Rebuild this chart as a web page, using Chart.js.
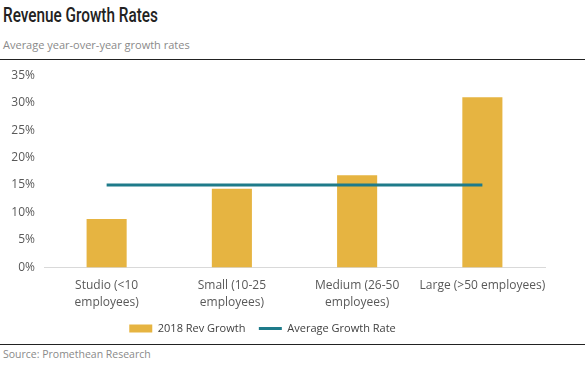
<!DOCTYPE html>
<html>
<head>
<meta charset="utf-8">
<script src="https://cdn.jsdelivr.net/npm/chart.js@4/dist/chart.umd.min.js"></script>
<style>
  body { margin: 0; width: 588px; height: 367px; background: #fff; font-family: "Open Sans", sans-serif; overflow: hidden; }
  #title { position: absolute; left: 3px; top: 3px; font-family: Roboto, sans-serif; font-weight: 500; font-size: 21px; color: #222; transform: scaleX(0.73); transform-origin: left top; white-space: nowrap; }
  #sub { position: absolute; left: 3px; top: 37px; font-size: 11px; color: #8a8a8a; }
  #topline { position: absolute; left: 0; top: 59px; width: 585px; height: 1px; background: #222; }
  #box { position: absolute; left: 0; top: 59px; width: 588px; height: 285px; }
  #botline { position: absolute; left: 0; top: 344px; width: 585px; height: 1px; background: #222; }
  #src { position: absolute; left: 3px; top: 347px; font-size: 10.5px; color: #8a8a8a; }
</style>
</head>
<body>
<div id="title">Revenue Growth Rates</div>
<div id="sub">Average year-over-year growth rates</div>
<div id="topline"></div>
<div id="box"><canvas id="chart"></canvas></div>
<div id="botline"></div>
<div id="src">Source: Promethean Research</div>
<script>
var categories = [
    ['Studio (<10', 'employees)'],
    ['Small (10-25', 'employees)'],
    ['Medium (26-50', 'employees)'],
    'Large (>50 employees)'
];
var revGrowth = [8.8, 14.3, 16.8, 31.0];
var avgGrowth = [15.0, 15.0, 15.0, 15.0];
var yTicks = [0, 5, 10, 15, 20, 25, 30, 35];

// trailing spaces widen the legend items to get the gaps of the original
var legendPad = { 'line': '       ', 'bar': '    ' };

var canvas = document.getElementById('chart').getContext('2d');
window.bar = new Chart(canvas, {
    data: {
        labels: categories,
        datasets: [{
                type: 'line',
                label: 'Average Growth Rate',
                data: avgGrowth,
                borderColor: '#1E7B8A',
                backgroundColor: '#1E7B8A',
                borderWidth: 3,
                pointRadius: 0,
                order: 0
            },
            {
                type: 'bar',
                label: '2018 Rev Growth',
                data: revGrowth,
                backgroundColor: '#E6B441',
                barPercentage: 0.32,
                categoryPercentage: 1,
                order: 1
            }
        ]
    },
    options: {
        responsive: true,
        maintainAspectRatio: false,
        animation: false,
        layout: { padding: { top: 0, right: 43, left: 0, bottom: 0 } },
        plugins: {
            legend: {
                position: 'bottom',
                reverse: true,
                labels: {
                    usePointStyle: true,
                    pointStyleWidth: 23,
                    boxHeight: 8,
                    padding: 2,
                    color: '#404040',
                    font: { family: 'Open Sans', size: 11 },
                    generateLabels: function (chart) {
                        var items = Chart.defaults.plugins.legend.labels.generateLabels(chart);
                        items.forEach(function (it) {
                            var ds = chart.data.datasets[it.datasetIndex];
                            it.pointStyle = ds.type === 'line' ? 'line' : 'rect';
                            it.lineWidth = ds.type === 'line' ? 3 : 0;
                            it.strokeStyle = ds.type === 'line' ? '#1E7B8A' : '#E6B441';
                            it.text = it.text + legendPad[ds.type];
                        });
                        return items;
                    }
                }
            },
            tooltip: { enabled: false }
        },
        scales: {
            x: {
                grid: { display: false, drawTicks: false },
                border: { color: '#d9d9d9', width: 1 },
                ticks: {
                    color: '#595959',
                    padding: 10,
                    maxRotation: 0,
                    autoSkip: false,
                    font: { family: 'Open Sans', size: 12, lineHeight: 1.4 }
                }
            },
            y: {
                min: 0,
                max: 35,
                afterBuildTicks: function (axis) {
                    axis.ticks = yTicks.map(function (v) { return { value: v }; });
                },
                afterFit: function (axis) { axis.width = 44; },
                grid: { display: false, drawTicks: false },
                border: { display: false },
                ticks: {
                    color: '#595959',
                    padding: 9,
                    font: { family: 'Open Sans', size: 12 },
                    callback: function (v) { return v + '%'; }
                }
            }
        }
    }
});
</script>
</body>
</html>
